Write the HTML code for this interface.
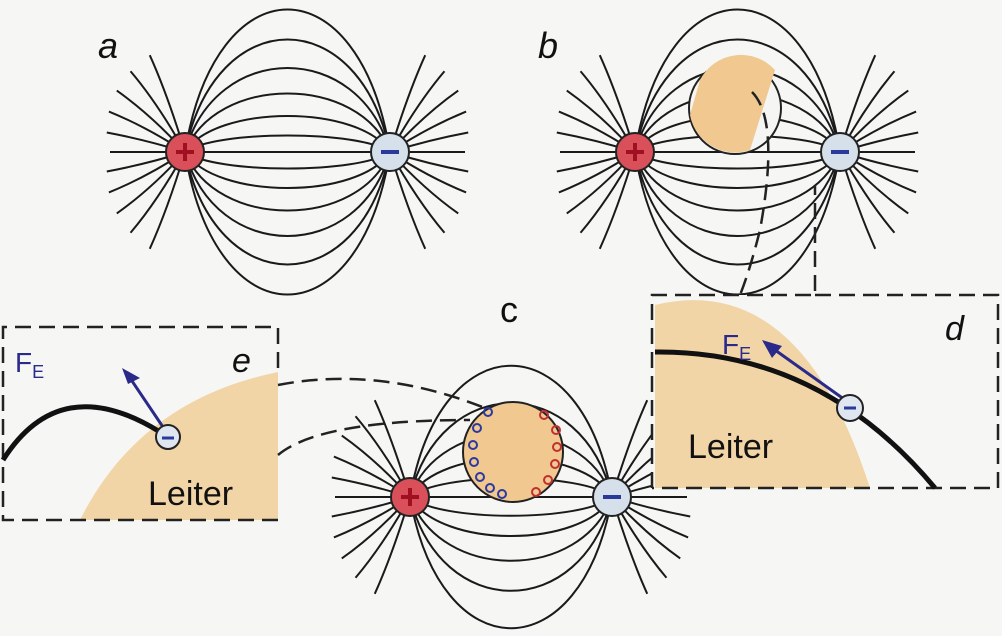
<!DOCTYPE html>
<html><head><meta charset="utf-8"><style>
html,body{margin:0;padding:0;background:#f6f6f4;}
svg{display:block;}
text{font-family:"Liberation Sans",sans-serif;}
</style></head><body>
<svg id="s" width="1002" height="636" viewBox="0 0 1002 636" xmlns="http://www.w3.org/2000/svg">
<rect width="1002" height="636" fill="#f6f6f4"/>
<g id="lines" fill="none" stroke="#1a1a1a" stroke-width="2"></g>
<!-- panel b conductor -->
<circle cx="735" cy="108" r="46" fill="#f5f5f3" stroke="#222" stroke-width="2"/>
<path d="M700 80 A46 46 0 0 1 775 70 L750 150 A46 46 0 0 1 690 115 Z" fill="#f0c890"/>
<!-- panel e -->
<rect x="3" y="327" width="275" height="193" fill="#f6f6f4"/>
<path d="M80 520 Q140 400 278 372 L278 520 Z" fill="#f2d5a6"/>
<path d="M278 520 L3 520 L3 327 L278 327 L278 372" fill="none" stroke="#222" stroke-width="2.5" stroke-dasharray="16,8"/>
<path d="M278 385 Q380 365 490 410 M278 455 Q320 420 470 420" fill="none" stroke="#222" stroke-width="2.5" stroke-dasharray="16,8"/>
<path d="M3 460 Q60 370 160 432" fill="none" stroke="#111" stroke-width="5"/>
<line x1="165" y1="430" x2="130" y2="378" stroke="#2a2a8a" stroke-width="3"/>
<polygon points="122,368 140,378 128,384" fill="#2a2a8a"/>
<circle cx="168" cy="437" r="12" fill="#dfe6ef" stroke="#222" stroke-width="2"/>
<line x1="162" y1="438" x2="174" y2="438" stroke="#2a3a9a" stroke-width="3"/>
<text x="15" y="372" font-size="28" fill="#2a2a8a">F<tspan font-size="18" dy="6">E</tspan></text>
<text x="232" y="372" font-size="34" font-style="italic" fill="#111">e</text>
<text x="148" y="505" font-size="34" fill="#111">Leiter</text>
<!-- panel d -->
<rect x="652" y="295" width="346" height="193" fill="#f6f6f4"/>
<path d="M655 305 Q800 270 870 488 L655 488 Z" fill="#f2d5a6"/>
<path d="M652 488 L652 295 L815 295 L815 185 M815 295 L998 295 L998 488 L652 488" fill="none" stroke="#222" stroke-width="2.5" stroke-dasharray="16,8"/>
<path d="M752 92 Q780 120 760 230 Q750 270 740 295" fill="none" stroke="#222" stroke-width="2.5" stroke-dasharray="16,8"/>
<path d="M655 352 Q820 350 935 488" fill="none" stroke="#111" stroke-width="5"/>
<line x1="848" y1="402" x2="775" y2="350" stroke="#2a2a8a" stroke-width="3"/>
<polygon points="762,340 782,346 772,358" fill="#2a2a8a"/>
<circle cx="850" cy="408" r="13" fill="#dfe6ef" stroke="#222" stroke-width="2"/>
<line x1="844" y1="408" x2="856" y2="408" stroke="#2a3a9a" stroke-width="3"/>
<text x="722" y="354" font-size="28" fill="#2a2a8a">F<tspan font-size="18" dy="6">E</tspan></text>
<text x="945" y="340" font-size="34" font-style="italic" fill="#111">d</text>
<text x="688" y="458" font-size="34" fill="#111">Leiter</text>
<!-- panel c conductor -->
<circle cx="513" cy="452" r="50" fill="#f0c890" stroke="#222" stroke-width="2"/>
<g fill="none" stroke="#2a3aa0" stroke-width="2">
<circle cx="488" cy="412" r="4"/><circle cx="477" cy="428" r="4"/><circle cx="473" cy="445" r="4"/><circle cx="474" cy="462" r="4"/><circle cx="480" cy="477" r="4"/><circle cx="490" cy="488" r="4"/><circle cx="502" cy="494" r="4"/></g>
<g fill="none" stroke="#c03030" stroke-width="2">
<circle cx="544" cy="415" r="4"/><circle cx="556" cy="430" r="4"/><circle cx="557" cy="447" r="4"/><circle cx="555" cy="464" r="4"/><circle cx="548" cy="480" r="4"/><circle cx="536" cy="492" r="4"/></g>
<g id="charges"></g>
<text x="98" y="58" font-size="36" font-style="italic" fill="#111">a</text>
<text x="538" y="58" font-size="36" font-style="italic" fill="#111">b</text>
<text x="500" y="322" font-size="36" fill="#111">c</text>
<script>
var g=document.getElementById('lines'),ch=document.getElementById('charges'),ns='http://www.w3.org/2000/svg';
function p(d,w){var e=document.createElementNS(ns,'path');e.setAttribute('d',d);if(w)e.setAttribute('stroke-width',w);g.appendChild(e);}
function dip(x1,x2,y,hs,spread){hs.forEach(function(h){p('M'+x1+' '+y+' C'+(x1+(x2-x1)*0.15)+' '+(y-h)+' '+(x2-(x2-x1)*0.15)+' '+(y-h)+' '+x2+' '+y);p('M'+x1+' '+y+' C'+(x1+(x2-x1)*0.15)+' '+(y+h)+' '+(x2-(x2-x1)*0.15)+' '+(y+h)+' '+x2+' '+y);});
 for(var a=-spread;a<=spread+0.1;a+=spread/5){var r=a*Math.PI/180;
  [[x1,-1],[x2,1]].forEach(function(q){var L=75+Math.abs(a)*0.4;var ex=q[0]+q[1]*Math.cos(r)*L,ey=y+Math.sin(r)*L;var cx=q[0]+q[1]*Math.cos(r)*L*0.5,cy=y+Math.sin(r)*L*0.5+Math.sin(r)*10;p('M'+q[0]+' '+y+' Q'+cx+' '+cy+' '+ex+' '+ey);});}}
dip(185,390,152,[0,22,48,78,112,150,190],70);
dip(635,840,152,[0,22,48,78,112,150,190],70);
dip(410,612,497,[0,25,52,85,125,175],70);
function c(x,y,r,plus){var e=document.createElementNS(ns,'circle');e.setAttribute('cx',x);e.setAttribute('cy',y);e.setAttribute('r',r);e.setAttribute('fill',plus?'#d9505a':'#d5e0ea');e.setAttribute('stroke','#222');e.setAttribute('stroke-width','2');ch.appendChild(e);
 var l=document.createElementNS(ns,'path');l.setAttribute('d',plus?('M'+(x-9)+' '+y+' h18 M'+x+' '+(y-9)+' v18'):('M'+(x-9)+' '+y+' h18'));l.setAttribute('stroke',plus?'#a01020':'#2a3a9a');l.setAttribute('stroke-width','4');ch.appendChild(l);}
c(185,152,19,1);c(390,152,19,0);c(635,152,19,1);c(840,152,19,0);c(410,497,19,1);c(612,497,19,0);
</script>
</svg>
</body></html>
